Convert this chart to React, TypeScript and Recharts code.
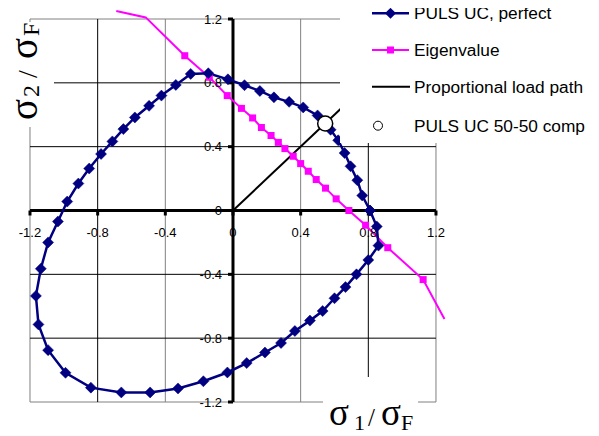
import React from 'react';
import { ComposedChart, Line, Scatter, XAxis, YAxis, ReferenceLine, ReferenceDot } from 'recharts';

// Interaction curve, PULS UC (perfect plate)
const pulsPerfect = [
  { x: 0.81, y: 0.0 }, { x: 0.85, y: -0.1 }, { x: 0.86, y: -0.22 }, { x: 0.8, y: -0.31 },
  { x: 0.73, y: -0.4 }, { x: 0.665, y: -0.48 }, { x: 0.6, y: -0.55 }, { x: 0.53, y: -0.63 },
  { x: 0.455, y: -0.69 }, { x: 0.366, y: -0.755 }, { x: 0.284, y: -0.83 }, { x: 0.189, y: -0.89 },
  { x: 0.081, y: -0.956 }, { x: -0.033, y: -1.015 }, { x: -0.175, y: -1.07 }, { x: -0.325, y: -1.115 },
  { x: -0.49, y: -1.14 }, { x: -0.66, y: -1.14 }, { x: -0.84, y: -1.11 }, { x: -0.99, y: -1.017 },
  { x: -1.093, y: -0.875 }, { x: -1.15, y: -0.714 }, { x: -1.165, y: -0.535 }, { x: -1.136, y: -0.365 },
  { x: -1.093, y: -0.2 }, { x: -1.035, y: -0.069 }, { x: -0.98, y: 0.056 }, { x: -0.914, y: 0.169 },
  { x: -0.85, y: 0.263 }, { x: -0.78, y: 0.354 }, { x: -0.713, y: 0.433 }, { x: -0.648, y: 0.51 },
  { x: -0.58, y: 0.583 }, { x: -0.496, y: 0.656 }, { x: -0.423, y: 0.72 }, { x: -0.338, y: 0.787 },
  { x: -0.25, y: 0.856 }, { x: -0.146, y: 0.86 }, { x: -0.03, y: 0.822 }, { x: 0.068, y: 0.785 },
  { x: 0.159, y: 0.749 }, { x: 0.242, y: 0.709 }, { x: 0.332, y: 0.681 }, { x: 0.415, y: 0.646 },
  { x: 0.5, y: 0.596 }, { x: 0.577, y: 0.506 }, { x: 0.622, y: 0.44 }, { x: 0.66, y: 0.36 },
  { x: 0.695, y: 0.277 }, { x: 0.735, y: 0.19 }, { x: 0.764, y: 0.094 }, { x: 0.81, y: 0.0 },
];

// Elastic buckling (eigenvalue) curve
const eigenvalue = [
  { x: -0.69, y: 1.25 }, { x: -0.516, y: 1.21 }, { x: -0.285, y: 0.97 }, { x: -0.14, y: 0.835 },
  { x: -0.034, y: 0.72 }, { x: 0.05, y: 0.64 }, { x: 0.116, y: 0.58 }, { x: 0.168, y: 0.52 },
  { x: 0.225, y: 0.47 }, { x: 0.268, y: 0.427 }, { x: 0.307, y: 0.388 }, { x: 0.356, y: 0.34 },
  { x: 0.4, y: 0.294 }, { x: 0.445, y: 0.246 }, { x: 0.492, y: 0.194 }, { x: 0.547, y: 0.14 },
  { x: 0.61, y: 0.073 }, { x: 0.685, y: 0.0 }, { x: 0.784, y: -0.092 }, { x: 0.915, y: -0.233 },
  { x: 1.124, y: -0.433 }, { x: 1.25, y: -0.68 },
];

const proportionalPath = [{ x: 0, y: 0 }, { x: 0.8, y: 0.8 }];
const pulsComp = [{ x: 0.545, y: 0.545 }];

const tickValues = [-1.2, -0.8, -0.4, 0, 0.4, 0.8, 1.2];
const tickLabels = ['-1.2', '-0.8', '-0.4', '0', '0.4', '0.8', '1.2'];
const blackGridX = [-0.8, 0.8];
const grayGridX = [-0.4, 0.4];
const blackGridY = [-0.8, -0.4, 0.4, 0.8];
const frameLimits = [-1.2, 1.2];

const legendNames = ['PULS UC, perfect', 'Eigenvalue', 'Proportional load path', 'PULS UC 50-50 comp'];

const NAVY = '#000080';
const MAGENTA = '#FF00FF';
const GRAY = '#808080';
const SANS = "'Liberation Sans', Arial, sans-serif";
const SERIF = "'Liberation Serif', 'Times New Roman', serif";

const W = 591;
const H = 428;
const LIM = 1.2;

const inside = (p: any) => p && Math.abs(p.x) <= LIM + 1e-9 && Math.abs(p.y) <= LIM + 1e-9;

const diamondPath = (cx: number, cy: number, r: number) =>
  `M${cx},${cy - r}L${cx + r},${cy}L${cx},${cy + r}L${cx - r},${cy}Z`;

const DiamondDot = (props: any) => {
  const { cx, cy, payload, index } = props;
  if (!inside(payload) || cx == null) return <g key={`d${index}`} />;
  return <path key={`d${index}`} d={diamondPath(cx, cy, 5.5)} fill={NAVY} stroke={NAVY} strokeWidth={0.5} />;
};

const SquareDot = (props: any) => {
  const { cx, cy, payload, index } = props;
  if (!inside(payload) || cx == null) return <g key={`s${index}`} />;
  return <rect key={`s${index}`} x={cx - 3.5} y={cy - 3.5} width={7} height={7} fill={MAGENTA} />;
};

const CompCircle = (props: any) => {
  const { cx, cy } = props;
  return <circle cx={cx} cy={cy} r={7.5} fill="#fff" stroke="#000" strokeWidth={1.5} />;
};

export default function App() {
  return (
    <div style={{ position: 'relative', width: W, height: H }}>
      <ComposedChart width={W} height={H} margin={{ top: 1.43, right: 146.1, bottom: 18.04, left: 5.08 }}>
        <XAxis type="number" dataKey="x" domain={[-1.3, 1.3]} allowDataOverflow hide />
        <YAxis type="number" dataKey="y" domain={[-1.3, 1.26]} allowDataOverflow hide />

        {/* plot frame */}
        {frameLimits.map((v) => (
          <ReferenceLine key={`fx${v}`} segment={[{ x: v, y: -LIM }, { x: v, y: LIM }]} stroke={GRAY} strokeWidth={1} />
        ))}
        {frameLimits.map((v) => (
          <ReferenceLine key={`fy${v}`} segment={[{ x: -LIM, y: v }, { x: LIM, y: v }]} stroke={GRAY} strokeWidth={1} />
        ))}
        {/* grid */}
        {grayGridX.map((v) => (
          <ReferenceLine key={`gx${v}`} segment={[{ x: v, y: -LIM }, { x: v, y: LIM }]} stroke={GRAY} strokeWidth={1} />
        ))}
        {blackGridX.map((v) => (
          <ReferenceLine key={`bx${v}`} segment={[{ x: v, y: -LIM }, { x: v, y: LIM }]} stroke="#000" strokeWidth={1} />
        ))}
        {blackGridY.map((v) => (
          <ReferenceLine key={`by${v}`} segment={[{ x: -LIM, y: v }, { x: LIM, y: v }]} stroke="#000" strokeWidth={1} />
        ))}
        {/* axes through the origin */}
        <ReferenceLine segment={[{ x: -LIM, y: 0 }, { x: LIM, y: 0 }]} stroke="#000" strokeWidth={3} />
        <ReferenceLine segment={[{ x: 0, y: -LIM }, { x: 0, y: LIM }]} stroke="#000" strokeWidth={3} />

        {tickValues.map((v, i) => (
          <ReferenceDot
            key={`tx${v}`}
            x={v}
            y={0}
            r={0}
            shape={(p: any) => (
              <g>
                <line x1={p.cx} y1={p.cy} x2={p.cx} y2={p.cy + 5} stroke="#000" strokeWidth={3} />
                <text x={p.cx} y={p.cy + 26} textAnchor="middle" fontFamily={SANS} fontSize={13} fill="#000">
                  {tickLabels[i]}
                </text>
              </g>
            )}
          />
        ))}
        {tickValues.map((v, i) => (
          <ReferenceDot
            key={`ty${v}`}
            x={0}
            y={v}
            r={0}
            shape={(p: any) => (
              <g>
                <line x1={p.cx - 5} y1={p.cy} x2={p.cx} y2={p.cy} stroke="#000" strokeWidth={3} />
                <text x={p.cx - 11} y={p.cy + 4.6} textAnchor="end" fontFamily={SANS} fontSize={13} fill="#000">
                  {tickLabels[i]}
                </text>
              </g>
            )}
          />
        ))}

        <Line
          data={eigenvalue}
          dataKey="y"
          name={legendNames[1]}
          type="linear"
          stroke={MAGENTA}
          strokeWidth={2}
          dot={SquareDot}
          activeDot={false}
          isAnimationActive={false}
        />
        <Line
          data={pulsPerfect}
          dataKey="y"
          name={legendNames[0]}
          type="linear"
          stroke={NAVY}
          strokeWidth={2.5}
          dot={DiamondDot}
          activeDot={false}
          isAnimationActive={false}
        />
        <Line
          data={proportionalPath}
          dataKey="y"
          name={legendNames[2]}
          type="linear"
          stroke="#000"
          strokeWidth={2}
          dot={false}
          activeDot={false}
          isAnimationActive={false}
        />
        <Scatter data={pulsComp} dataKey="y" name={legendNames[3]} shape={CompCircle} isAnimationActive={false} />
      </ComposedChart>

      <svg
        width={599}
        height={436}
        style={{ position: 'absolute', left: -8, top: -8, pointerEvents: 'none' }}
      >
        {/* legend */}
        <rect x={340} y={0} width={259} height={143} fill="#fff" />
        <g fontFamily={SANS} fontSize={17.3} fill="#000">
          <line x1={372} x2={409} y1={13.3} y2={13.3} stroke={NAVY} strokeWidth={2.5} />
          <path d={diamondPath(390.5, 13.3, 5.5)} fill={NAVY} />
          <text x={414} y={19.3}>{legendNames[0]}</text>

          <line x1={372} x2={409} y1={50} y2={50} stroke={MAGENTA} strokeWidth={2} />
          <rect x={387} y={46.5} width={7} height={7} fill={MAGENTA} />
          <text x={414} y={56}>{legendNames[1]}</text>

          <line x1={372} x2={410} y1={86.7} y2={86.7} stroke="#000" strokeWidth={2} />
          <text x={414} y={92.8}>{legendNames[2]}</text>

          <circle cx={378} cy={125.7} r={4.5} fill="#fff" stroke="#000" strokeWidth={1} />
          <text x={414} y={131.6}>{legendNames[3]}</text>
        </g>

        {/* vertical axis title */}
        <rect x={4} y={22} width={50} height={105} fill="#fff" />
        <text transform="translate(37,120) rotate(-90)" fontFamily={SERIF} fill="#000">
          <tspan x={0} y={0} fontSize={39}>σ</tspan>
          <tspan x={23} y={2} fontSize={24}>2</tspan>
          <tspan x={42} y={0} fontSize={28}>/</tspan>
          <tspan x={61} y={0} fontSize={39}>σ</tspan>
          <tspan x={84} y={2} fontSize={24}>F</tspan>
        </text>

        {/* horizontal axis title */}
        <rect x={323} y={377} width={95} height={59} fill="#fff" />
        <text fontFamily={SERIF} fill="#000">
          <tspan x={329} y={425} fontSize={37}>σ</tspan>
          <tspan x={354} y={430} fontSize={22}>1</tspan>
          <tspan x={368} y={426} fontSize={25}>/</tspan>
          <tspan x={381} y={425} fontSize={37}>σ</tspan>
          <tspan x={401} y={430} fontSize={22}>F</tspan>
        </text>
      </svg>
    </div>
  );
}
